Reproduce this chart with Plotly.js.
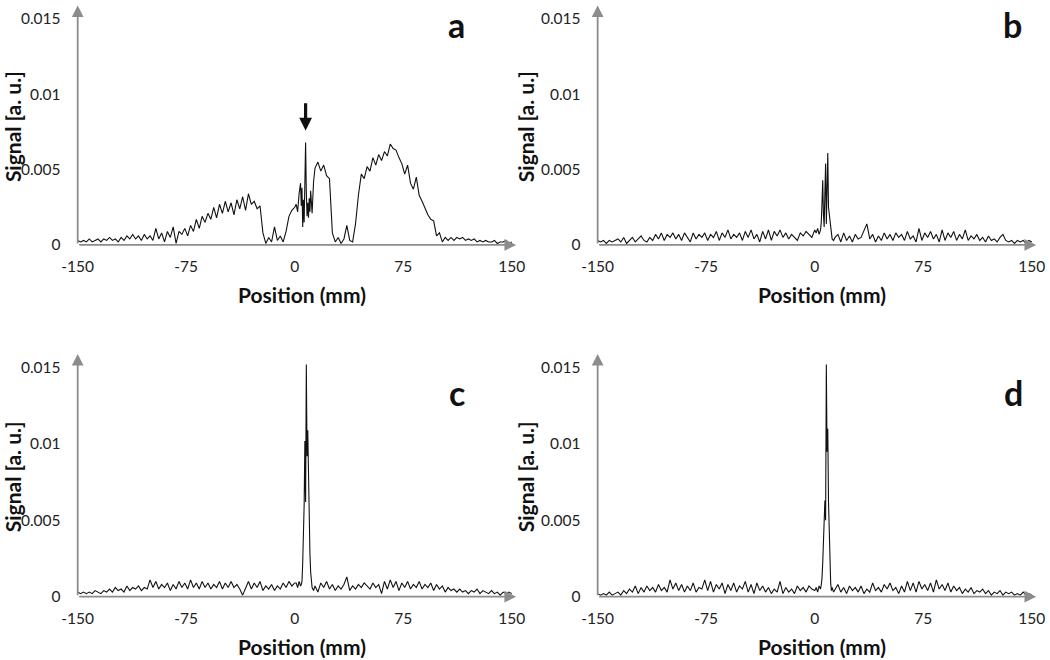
<!DOCTYPE html>
<html>
<head>
<meta charset="utf-8">
<script src="https://cdn.plot.ly/plotly-3.0.1.min.js"></script>
<style>html,body{margin:0;padding:0;background:#fff;}#chart{width:1050px;height:660px;}</style>
</head>
<body>
<div id="chart"></div>
<script>
// Position grid (mm)
const position = [
-150,-148,-146,-144,-142,-140,-138,-136,-134,-132,
-130,-128,-126,-124,-122,-120,-118,-116,-114,-112,
-110,-108,-106,-104,-102,-100,-98,-96,-94,-92,
-90,-88,-86,-84,-82,-80,-78,-76,-74,-72,
-70,-68,-66,-64,-62,-60,-58,-56,-54,-52,
-50,-48,-46,-44,-42,-40,-38,-36,-34,-32,
-30,-28,-26,-24,-22,-20,-18,-16,-14,-12,
-10,-8,-6,-4,-2,0,
1,2,3,4,4.5,5,5.5,6,6.5,7,7.5,8,8.5,9,9.5,10,10.5,11,11.5,12,13,14,
16,18,20,22,24,26,28,30,32,34,
36,38,40,42,44,46,48,50,52,54,
56,58,60,62,64,66,68,70,72,74,
76,78,80,82,84,86,88,90,92,94,
96,98,100,102,104,106,108,110,112,114,
116,118,120,122,124,126,128,130,132,134,
136,138,140,142,144,146,148,150];

// Signal (a. u.) for panel a
const signalA = [
0.0003,0.0002,0.0003,0.0002,0.0004,0.0002,0.0003,0.0004,0.0002,0.0004,
0.0003,0.0005,0.0003,0.0004,0.0002,0.0005,0.0003,0.0006,0.0004,0.0007,
0.0004,0.0006,0.0003,0.0007,0.0004,0.0006,0.0003,0.0011,0.0004,0.0008,
0.0002,0.0009,0.0005,0.0012,0.0001,0.0009,0.0007,0.0011,0.0006,0.0013,
0.0009,0.0017,0.0011,0.0019,0.0015,0.0021,0.0017,0.0025,0.0018,0.0027,
0.0021,0.0029,0.0022,0.0028,0.0020,0.0030,0.0024,0.0032,0.0023,0.0034,
0.0027,0.0029,0.0024,0.0026,0.0008,0.0001,0.0005,0.0002,0.0012,0.0003,
0.0006,0.0002,0.0009,0.0019,0.0023,0.0025,
0.0027,0.0022,0.0034,0.0041,0.0026,0.0038,0.0012,0.0030,0.0015,0.0040,0.0068,0.0035,0.0019,0.0028,0.0018,0.0031,0.0022,0.0036,0.0029,0.0021,0.0042,0.0051,
0.0055,0.0049,0.0053,0.0046,0.0044,0.0008,0.0002,0.0005,0.0001,0.0004,
0.0013,0.0003,0.0002,0.0014,0.0033,0.0047,0.0044,0.0052,0.0049,0.0058,
0.0053,0.0060,0.0056,0.0062,0.0059,0.0067,0.0064,0.0063,0.0058,0.0054,
0.0047,0.0053,0.0041,0.0037,0.0045,0.0033,0.0029,0.0024,0.0020,0.0017,
0.0016,0.0006,0.0008,0.0002,0.0005,0.0003,0.0005,0.0003,0.0005,0.0004,
0.0005,0.0003,0.0004,0.0003,0.0004,0.0002,0.0003,0.0002,0.0003,0.0002,
0.0002,0.0003,0.0001,0.0002,0.0002,0.0003,0.0001,0.0002];

// Signal (a. u.) for panel b
const signalB = [
0.0003,0.0002,0.0003,0.0001,0.0003,0.0002,0.0003,0.0004,0.0002,0.0005,
0.0001,0.0003,0.0005,0.0002,0.0004,0.0006,0.0003,0.0002,0.0005,0.0003,
0.0007,0.0004,0.0008,0.0003,0.0007,0.0005,0.0008,0.0004,0.0007,0.0003,
0.0008,0.0005,0.0002,0.0008,0.0004,0.0007,0.0005,0.0008,0.0003,0.0007,
0.0005,0.0009,0.0003,0.0008,0.0005,0.0010,0.0004,0.0007,0.0005,0.0008,
0.0003,0.0009,0.0005,0.0010,0.0004,0.0007,0.0002,0.0009,0.0004,0.0010,
0.0003,0.0009,0.0006,0.0010,0.0005,0.0008,0.0004,0.0007,0.0005,0.0003,
0.0008,0.0006,0.0009,0.0007,0.0005,0.0010,
0.0008,0.0011,0.0007,0.0010,0.0015,0.0028,0.0043,0.0020,0.0012,0.0035,0.0054,0.0014,0.0030,0.0061,0.0025,0.0021,0.0016,0.0010,0.0006,0.0004,0.0003,0.0005,
0.0007,0.0002,0.0008,0.0003,0.0006,0.0002,0.0007,0.0004,0.0005,0.0009,
0.0014,0.0004,0.0007,0.0002,0.0006,0.0003,0.0008,0.0004,0.0007,0.0003,
0.0008,0.0005,0.0007,0.0003,0.0009,0.0004,0.0006,0.0002,0.0011,0.0003,
0.0008,0.0005,0.0009,0.0004,0.0007,0.0002,0.0010,0.0003,0.0008,0.0005,
0.0009,0.0003,0.0007,0.0004,0.0010,0.0003,0.0006,0.0004,0.0007,0.0003,
0.0005,0.0002,0.0006,0.0003,0.0004,0.0002,0.0005,0.0007,0.0003,0.0002,
0.0003,0.0001,0.0003,0.0002,0.0003,0.0001,0.0003,0.0002];

// Signal (a. u.) for panel c
const signalC = [
0.0003,0.0002,0.0003,0.0002,0.0003,0.0002,0.0004,0.0003,0.0002,0.0004,
0.0003,0.0005,0.0003,0.0006,0.0004,0.0005,0.0003,0.0007,0.0004,0.0006,
0.0005,0.0007,0.0004,0.0006,0.0005,0.0011,0.0006,0.0010,0.0005,0.0008,
0.0006,0.0009,0.0004,0.0008,0.0005,0.0010,0.0006,0.0009,0.0005,0.0011,
0.0006,0.0009,0.0005,0.0010,0.0006,0.0009,0.0005,0.0008,0.0006,0.0010,
0.0005,0.0009,0.0006,0.0010,0.0006,0.0008,0.0005,0.0001,0.0006,0.0010,
0.0005,0.0009,0.0006,0.0010,0.0004,0.0007,0.0005,0.0008,0.0004,0.0007,
0.0005,0.0009,0.0006,0.0010,0.0007,0.0009,
0.0009,0.0006,0.0010,0.0007,0.0008,0.0010,0.0022,0.0040,0.0060,0.0102,0.0062,0.0152,0.0092,0.0109,0.0072,0.0045,0.0028,0.0016,0.0009,0.0006,0.0004,0.0007,
0.0003,0.0009,0.0006,0.0010,0.0005,0.0008,0.0004,0.0007,0.0005,0.0008,
0.0013,0.0004,0.0007,0.0005,0.0008,0.0006,0.0009,0.0007,0.0005,0.0009,
0.0006,0.0008,0.0002,0.0010,0.0005,0.0011,0.0006,0.0010,0.0004,0.0009,
0.0006,0.0010,0.0005,0.0008,0.0006,0.0010,0.0005,0.0008,0.0006,0.0009,
0.0004,0.0008,0.0005,0.0007,0.0003,0.0006,0.0004,0.0005,0.0003,0.0005,
0.0003,0.0004,0.0002,0.0004,0.0003,0.0005,0.0002,0.0004,0.0003,0.0002,
0.0004,0.0002,0.0003,0.0001,0.0003,0.0002,0.0003,0.0002];

// Signal (a. u.) for panel d
const signalD = [
0.0002,0.0001,0.0002,0.0001,0.0003,0.0001,0.0002,0.0003,0.0001,0.0004,
0.0002,0.0005,0.0003,0.0007,0.0002,0.0006,0.0003,0.0007,0.0004,0.0006,
0.0003,0.0008,0.0004,0.0006,0.0003,0.0011,0.0005,0.0009,0.0004,0.0008,
0.0003,0.0007,0.0004,0.0009,0.0003,0.0006,0.0005,0.0011,0.0004,0.0010,
0.0003,0.0008,0.0005,0.0009,0.0002,0.0008,0.0004,0.0009,0.0003,0.0007,
0.0005,0.0010,0.0003,0.0008,0.0002,0.0009,0.0004,0.0007,0.0003,0.0006,
0.0002,0.0005,0.0003,0.0010,0.0002,0.0006,0.0003,0.0005,0.0002,0.0007,
0.0004,0.0006,0.0003,0.0007,0.0005,0.0004,
0.0006,0.0003,0.0007,0.0005,0.0008,0.0012,0.0022,0.0038,0.0052,0.0063,0.0050,0.0152,0.0095,0.0110,0.0062,0.0038,0.0020,0.0009,0.0004,0.0006,0.0003,0.0005,
0.0008,0.0003,0.0006,0.0002,0.0007,0.0004,0.0006,0.0003,0.0007,0.0002,
0.0005,0.0003,0.0009,0.0004,0.0006,0.0003,0.0008,0.0005,0.0009,0.0004,
0.0006,0.0002,0.0007,0.0003,0.0010,0.0004,0.0009,0.0003,0.0010,0.0005,
0.0008,0.0004,0.0009,0.0003,0.0011,0.0005,0.0008,0.0004,0.0009,0.0003,
0.0007,0.0004,0.0006,0.0002,0.0005,0.0003,0.0006,0.0002,0.0004,0.0003,
0.0005,0.0002,0.0004,0.0001,0.0003,0.0002,0.0004,0.0001,0.0003,0.0002,
0.0003,0.0001,0.0002,0.0001,0.0003,0.0001,0.0002,0.0001];

const xTickVals = [-150, -75, 0, 75, 150];
const xTickText = ['-150', '-75', '0', '75', '150'];
const yTickVals = [0, 0.005, 0.01, 0.015];
const yTickText = ['0', '0.005', '0.01', '0.015'];
const panelLabels = ['a', 'b', 'c', 'd'];

const FONT = 'Lato, "Open Sans", "Liberation Sans", sans-serif';
const AXIS_GRAY = '#8c8c8c';

function xAxis(domain, anchor) {
  return {
    domain: domain, anchor: anchor, range: [-150, 160],
    tickmode: 'array', tickvals: xTickVals, ticktext: xTickText,
    showgrid: false, zeroline: false, showline: false,
    ticks: 'outside', ticklen: 3, tickcolor: 'rgba(0,0,0,0)',
    tickfont: {family: FONT, size: 15.5, color: '#222'},
    title: {text: '<b>Position (mm)</b>', font: {family: FONT, size: 21, color: '#111'}, standoff: 14},
    automargin: false, fixedrange: true
  };
}
function yAxis(domain, anchor) {
  return {
    domain: domain, anchor: anchor, range: [-0.0003, 0.016],
    tickmode: 'array', tickvals: yTickVals, ticktext: yTickText,
    showgrid: false, zeroline: false, showline: false,
    ticks: 'outside', ticklen: 13, tickcolor: 'rgba(0,0,0,0)',
    tickfont: {family: FONT, size: 15.5, color: '#222'},
    title: {text: '<b>Signal [a. u.]</b>', font: {family: FONT, size: 21, color: '#111'}, standoff: 0},
    automargin: false, fixedrange: true
  };
}

const series = [signalA, signalB, signalC, signalD];
const suffix = ['', '2', '3', '4'];
const traces = series.map((s, i) => ({
  x: position, y: s, type: 'scatter', mode: 'lines',
  xaxis: 'x' + suffix[i], yaxis: 'y' + suffix[i],
  line: {color: '#111', width: 1.1}, hoverinfo: 'skip', showlegend: false
}));

const annotations = [];
suffix.forEach((sf, i) => {
  const xr = 'x' + sf, yr = 'y' + sf;
  // y-axis arrow
  annotations.push({xref: xr, yref: yr, axref: xr, ayref: yr, x: -150, y: 0.0159, ax: -150, ay: 0,
    text: '', showarrow: true, arrowhead: 2, arrowsize: 1.3, arrowwidth: 1.8, arrowcolor: AXIS_GRAY});
  // x-axis arrow
  annotations.push({xref: xr, yref: yr, axref: xr, ayref: yr, x: 153, y: 0, ax: -150, ay: 0,
    text: '', showarrow: true, arrowhead: 2, arrowsize: 1.3, arrowwidth: 1.8, arrowcolor: AXIS_GRAY});
});
// black marker arrow in panel a
annotations.push({xref: 'x', yref: 'y', axref: 'x', ayref: 'y', x: 7.5, y: 0.0076, ax: 7.5, ay: 0.0095,
  text: '', showarrow: true, arrowhead: 2, arrowsize: 0.8, arrowwidth: 3.2, arrowcolor: '#111'});
// panel letters
const labelPos = [[456, 25], [1012, 25], [457, 392], [1013, 392]];
panelLabels.forEach((t, i) => {
  annotations.push({xref: 'paper', yref: 'paper', x: labelPos[i][0] / 1050, y: 1 - labelPos[i][1] / 660,
    xanchor: 'center', yanchor: 'middle', showarrow: false, text: '<b>' + t + '</b>',
    font: {family: FONT, size: 34, color: '#111'}});
});

const layout = {
  width: 1050, height: 660,
  margin: {l: 0, r: 0, t: 0, b: 0},
  paper_bgcolor: '#fff', plot_bgcolor: '#fff',
  font: {family: FONT, color: '#222'},
  showlegend: false,
  xaxis: xAxis([0.0740, 0.5012], 'y'),
  yaxis: yAxis([0.6220, 0.9941], 'x'),
  xaxis2: xAxis([0.5692, 0.9965], 'y2'),
  yaxis2: yAxis([0.6220, 0.9941], 'x2'),
  xaxis3: xAxis([0.0740, 0.5012], 'y3'),
  yaxis3: yAxis([0.0890, 0.4661], 'x3'),
  xaxis4: xAxis([0.5692, 0.9965], 'y4'),
  yaxis4: yAxis([0.0890, 0.4661], 'x4'),
  annotations: annotations
};

Plotly.newPlot('chart', traces, layout, {displayModeBar: false, staticPlot: true});
</script>
</body>
</html>
